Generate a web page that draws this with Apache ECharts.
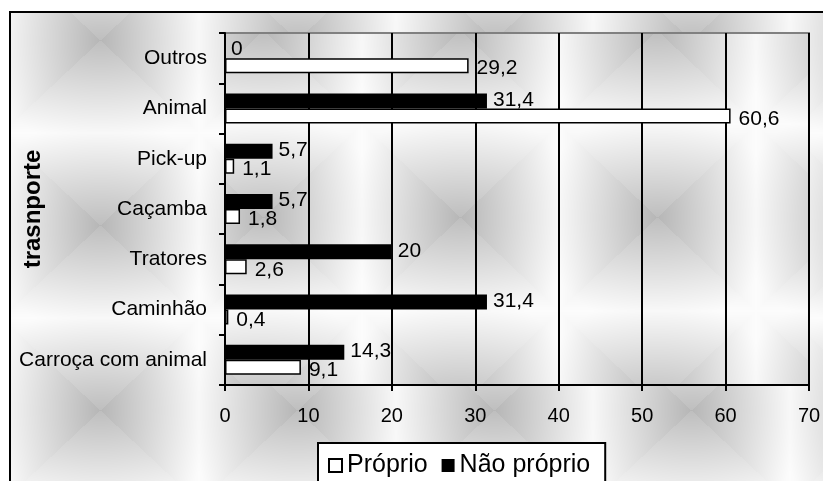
<!DOCTYPE html>
<html>
<head>
<meta charset="utf-8">
<script src="https://cdn.jsdelivr.net/npm/echarts@6/dist/echarts.min.js"></script>
<style>
html,body{margin:0;padding:0;background:#fff;}
#chart{width:823px;height:481px;}
</style>
</head>
<body>
<div id="chart"></div>
<script>
// ---- data ----
const categories = ['Carroça com animal', 'Caminhão', 'Tratores', 'Caçamba', 'Pick-up', 'Animal', 'Outros'];
const proprio = [9.1, 0.4, 2.6, 1.8, 1.1, 60.6, 29.2];
const naoProprio = [14.3, 31.4, 20, 5.7, 5.7, 31.4, 0];
const seriesNames = ['Próprio', 'Não próprio'];
const axisTitle = 'trasnporte';
const xMin = 0, xMax = 70, xStep = 10;

// ---- layout ----
const W = 823, H = 481;
const G = {left: 225, top: 33, right: 809, bottom: 385};
const FRAME = {x: 10, y: 12};

// ---- background texture (decorative) ----
function shade(x, y, cx, cy, tw, th) {
  let dx = ((x - cx) % tw + tw) % tw; if (dx > tw / 2) dx -= tw;
  let dy = ((y - cy) % th + th) % th; if (dy > th / 2) dy -= th;
  const u = Math.abs(dx) / (tw / 2), v = Math.abs(dy) / (th / 2);
  const tBox = Math.max(u, v);
  const tRad = Math.min(1, Math.sqrt(u * u + v * v) / 1.2);
  const t = 0.6 * tBox + 0.4 * tRad;
  const A = u >= v ? 70 : 62;
  const g = Math.max(0, 1 - t);
  return Math.round(252 - A * Math.pow(g, 1.0));
}
function makeBackground() {
  const c = document.createElement('canvas');
  c.width = W; c.height = H;
  const ctx = c.getContext('2d');
  const img = ctx.createImageData(W, H);
  for (let y = 0; y < H; y++) {
    for (let x = 0; x < W; x++) {
      let val = 255;
      if (x >= FRAME.x && y >= FRAME.y) {
        const inPlot = x >= G.left && x <= G.right && y >= G.top && y <= G.bottom;
        val = inPlot ? shade(x, y, 460, 217, 197, 187) : shade(x, y, 100, 40, 197, 185);
      }
      const i = (y * W + x) * 4;
      img.data[i] = val; img.data[i + 1] = val; img.data[i + 2] = val; img.data[i + 3] = 255;
    }
  }
  ctx.putImageData(img, 0, 0);
  return c;
}
const bg = makeBackground();

const FONT = "'Liberation Sans', Arial, sans-serif";
const fmt = p => String(p.value).replace('.', ',');

const chart = echarts.init(document.getElementById('chart'), null, {renderer: 'canvas'});
chart.setOption({
  animation: false,
  backgroundColor: '#ffffff',
  textStyle: {fontFamily: FONT, color: '#000'},
  graphic: [
    {type: 'image', z: -100, silent: true, left: 0, top: 0,
      style: {image: bg, x: 0, y: 0, width: W, height: H}},
    {type: 'rect', z: -90, silent: true,
      shape: {x: FRAME.x, y: FRAME.y, width: 840, height: 500},
      style: {fill: 'none', stroke: '#000', lineWidth: 2}}
  ],
  grid: {
    left: G.left, right: W - G.right, top: G.top, bottom: H - G.bottom,
    containLabel: false,
    outerBoundsMode: 'none',
    show: true, backgroundColor: 'transparent', borderColor: '#808080', borderWidth: 2
  },
  legend: {
    data: seriesNames,
    left: 318, top: 443,
    orient: 'horizontal',
    backgroundColor: '#ffffff',
    borderColor: '#000', borderWidth: 2, borderRadius: 0,
    padding: [10, 15, 12, 10],
    itemGap: 14,
    itemWidth: 13, itemHeight: 13,
    icon: 'rect',
    textStyle: {fontSize: 25, color: '#000', fontFamily: FONT}
  },
  xAxis: {
    type: 'value', min: xMin, max: xMax, interval: xStep,
    axisLine: {show: true, lineStyle: {color: '#000', width: 2}},
    axisTick: {show: true, length: 6, lineStyle: {color: '#000', width: 2}},
    axisLabel: {fontSize: 20, color: '#000', margin: 21, fontFamily: FONT},
    splitLine: {show: true, lineStyle: {color: '#000', width: 2}}
  },
  yAxis: {
    type: 'category', data: categories,
    name: axisTitle, nameLocation: 'middle', nameGap: 180, nameRotate: 90,
    nameMoveOverlap: false,
    nameTextStyle: {fontSize: 24, fontWeight: 'bold', color: '#000', fontFamily: FONT},
    axisLine: {show: true, lineStyle: {color: '#000', width: 2}},
    axisTick: {show: true, length: 6, lineStyle: {color: '#000', width: 2}},
    axisLabel: {fontSize: 21, color: '#000', margin: 18, padding: [4, 0, 0, 0], fontFamily: FONT},
    splitLine: {show: false}
  },
  series: [
    {
      name: seriesNames[1], type: 'bar', data: naoProprio,
      barWidth: 15, barGap: '0%',
      itemStyle: {color: '#000', borderColor: '#000', borderWidth: 0},
      label: {show: true, position: 'right', distance: 5, offset: [1, -1],
        fontSize: 21, color: '#000', fontFamily: FONT, formatter: fmt}
    },
    {
      name: seriesNames[0], type: 'bar', data: proprio,
      barWidth: 15, barGap: '0%',
      itemStyle: {color: '#fff', borderColor: '#000', borderWidth: 1.5},
      label: {show: true, position: 'right', distance: 5, offset: [3, 3],
        fontSize: 21, color: '#000', fontFamily: FONT, formatter: fmt}
    }
  ]
});
</script>
</body>
</html>
